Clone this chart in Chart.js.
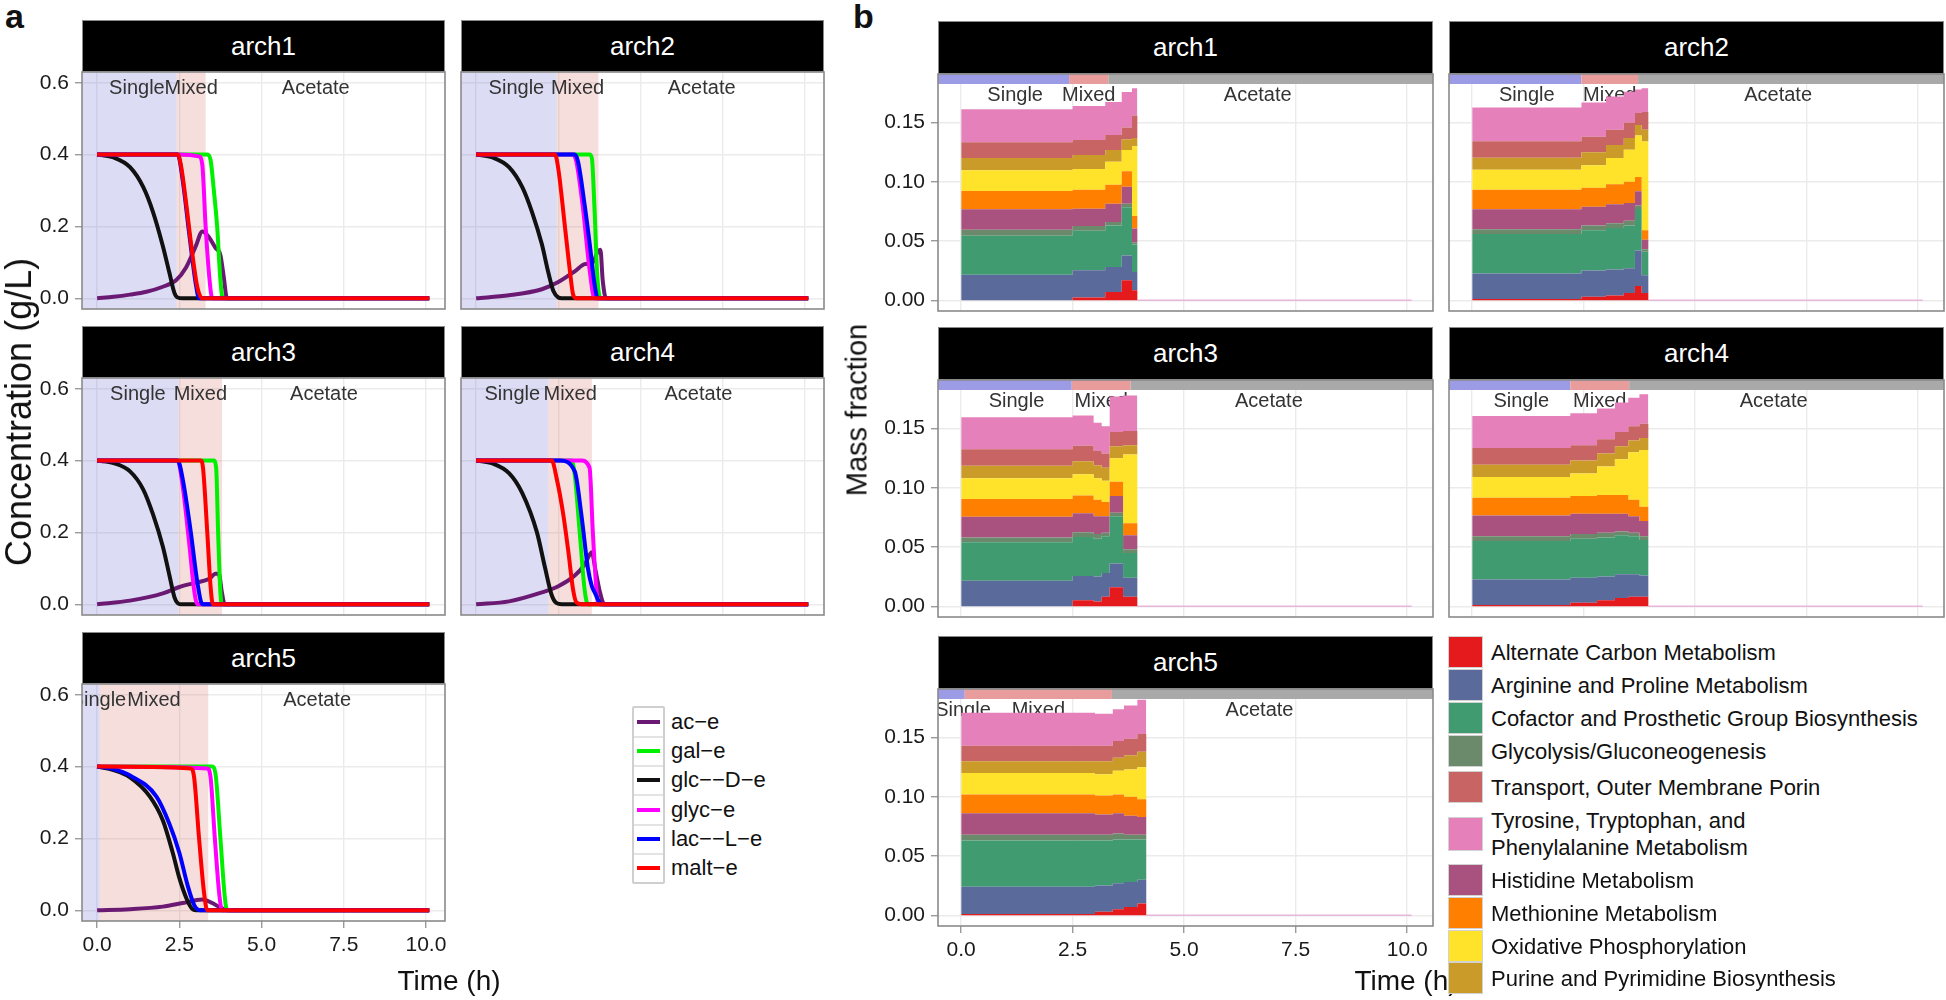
<!DOCTYPE html>
<html>
<head>
<meta charset="utf-8">
<title>Substrate uptake phases and pathway mass fractions</title>
<script src="https://cdn.jsdelivr.net/npm/chart.js@4.4.1/dist/chart.umd.min.js"></script>
<style>
  body { margin: 0; width: 1946px; height: 1000px; position: relative; overflow: hidden; background: #fff;
         font-family: "Liberation Sans", Arial, Helvetica, sans-serif; color: #111; }
  canvas { position: absolute; }
  .strip { position: absolute; box-sizing: border-box; background: #000; border: 1.5px solid #8a8a8a; color: #fff;
           font-size: 26px; display: flex; align-items: center; justify-content: center; }
  .txt { position: absolute; white-space: nowrap; }
  .box { position: absolute; box-sizing: border-box; }
</style>
</head>
<body>
<script>
const FONT = '"Liberation Sans", Arial, Helvetica, sans-serif';

// facets and growth phases (h)
const archNames = ['arch1', 'arch2', 'arch3', 'arch4', 'arch5'];
const phaseNames = ['Single', 'Mixed', 'Acetate'];
const phaseStart = 0;
const singleEnd = [2.42, 2.45, 2.48, 2.2, 0.08];
const mixedEnd = [3.3, 3.72, 3.8, 3.52, 3.38];
const acetateEnd = 10;

const timeTicks = [0, 2.5, 5, 7.5, 10];
const concTicks = [0, 0.2, 0.4, 0.6];
const fracTicks = [0, 0.05, 0.1, 0.15];

// ---- panel a: substrate concentrations [time, g/L] ----
const species = ['ac\u2212e', 'gal\u2212e', 'glc\u2212\u2212D\u2212e', 'glyc\u2212e', 'lac\u2212\u2212L\u2212e', 'malt\u2212e'];
const speciesColors = ['#6b1a74', '#00f000', '#111111', '#ff00ff', '#0000ff', '#ff0000'];

const a1_ac   = [[0,0],[0.5,0.004],[1,0.01],[1.5,0.018],[2,0.032],[2.4,0.05],[2.7,0.085],[3.0,0.145],[3.2,0.186],[3.4,0.17],[3.6,0.14],[3.75,0.12],[3.85,0.06],[3.95,0],[10.1,0]];
const a1_gal  = [[0,0.4],[3.35,0.4],[3.45,0.385],[3.55,0.3],[3.65,0.2],[3.75,0.05],[3.82,0],[10.1,0]];
const a1_glc  = [[0,0.4],[0.5,0.392],[1.0,0.365],[1.4,0.31],[1.7,0.24],[2.0,0.145],[2.2,0.07],[2.35,0.015],[2.45,0.002],[2.6,0],[10.1,0]];
const a1_glyc = [[0,0.4],[2.5,0.4],[3.1,0.395],[3.2,0.37],[3.3,0.2],[3.42,0.05],[3.5,0],[10.1,0]];
const a1_lac  = [[0,0.4],[2.45,0.4],[2.6,0.33],[2.8,0.18],[3.0,0.04],[3.1,0],[10.1,0]];
const a1_malt = [[0,0.4],[2.45,0.4],[2.55,0.37],[2.7,0.27],[2.9,0.12],[3.05,0.03],[3.2,0],[10.1,0]];

const a2_ac   = [[0,0],[1,0.008],[2,0.025],[2.5,0.045],[3.0,0.075],[3.3,0.095],[3.55,0.1],[3.7,0.13],[3.78,0.135],[3.85,0.05],[3.95,0],[10.1,0]];
const a2_gal  = [[0,0.4],[3.45,0.4],[3.52,0.39],[3.6,0.25],[3.68,0.07],[3.78,0],[10.1,0]];
const a2_glc  = [[0,0.4],[0.5,0.392],[1.0,0.365],[1.4,0.31],[1.7,0.24],[2.0,0.15],[2.2,0.07],[2.35,0.02],[2.5,0.002],[2.6,0],[10.1,0]];
const a2_glyc = [[0,0.4],[2.95,0.4],[3.05,0.38],[3.25,0.25],[3.45,0.08],[3.6,0],[10.1,0]];
const a2_lac  = [[0,0.4],[3.0,0.4],[3.1,0.38],[3.3,0.26],[3.47,0.14],[3.6,0.04],[3.7,0],[10.1,0]];
const a2_malt = [[0,0.4],[2.4,0.4],[2.5,0.36],[2.7,0.2],[2.86,0.07],[2.95,0.01],[3.05,0],[10.1,0]];

const a3_ac   = [[0,0],[1,0.01],[2,0.03],[2.5,0.048],[3.0,0.06],[3.4,0.07],[3.6,0.085],[3.7,0.085],[3.8,0.03],[3.88,0],[10.1,0]];
const a3_gal  = [[0,0.4],[3.55,0.4],[3.62,0.38],[3.68,0.2],[3.75,0.03],[3.8,0],[10.1,0]];
const a3_glc  = [[0,0.4],[0.5,0.393],[1.0,0.37],[1.4,0.32],[1.7,0.25],[2.0,0.16],[2.2,0.08],[2.35,0.02],[2.45,0.003],[2.55,0],[10.1,0]];
const a3_glyc = [[0,0.4],[2.45,0.4],[2.6,0.33],[2.8,0.17],[2.95,0.04],[3.05,0],[10.1,0]];
const a3_lac  = [[0,0.4],[2.45,0.4],[2.6,0.35],[2.85,0.2],[3.05,0.06],[3.2,0],[10.1,0]];
const a3_malt = [[0,0.4],[3.15,0.4],[3.22,0.38],[3.35,0.2],[3.45,0.05],[3.52,0],[10.1,0]];

const a4_ac   = [[0,0],[1,0.008],[2,0.033],[2.5,0.05],[3.0,0.08],[3.3,0.11],[3.52,0.145],[3.62,0.1],[3.75,0.04],[3.9,0],[10.1,0]];
const a4_gal  = [[0,0.4],[2.9,0.4],[3.0,0.36],[3.15,0.2],[3.3,0.04],[3.4,0],[10.1,0]];
const a4_glc  = [[0,0.4],[0.5,0.392],[1.0,0.365],[1.4,0.31],[1.85,0.2],[2.1,0.1],[2.3,0.025],[2.45,0.003],[2.6,0],[10.1,0]];
const a4_glyc = [[0,0.4],[3.2,0.4],[3.45,0.38],[3.55,0.2],[3.65,0.05],[3.72,0],[10.1,0]];
const a4_lac  = [[0,0.4],[2.55,0.4],[3.0,0.37],[3.2,0.25],[3.4,0.1],[3.52,0.05],[3.62,0.03],[3.72,0.01],[3.8,0],[10.1,0]];
const a4_malt = [[0,0.4],[2.3,0.4],[2.45,0.35],[2.65,0.25],[2.8,0.15],[2.95,0.04],[3.05,0.005],[3.2,0],[10.1,0]];

const a5_ac   = [[0,0],[1,0.003],[2,0.01],[2.6,0.02],[3.2,0.03],[3.5,0.02],[3.8,0.005],[4.0,0],[10.1,0]];
const a5_gal  = [[0,0.4],[3.5,0.4],[3.6,0.38],[3.75,0.2],[3.88,0.04],[3.95,0],[10.1,0]];
const a5_glc  = [[0,0.4],[0.5,0.39],[1.0,0.37],[1.6,0.317],[2.0,0.25],[2.3,0.16],[2.5,0.09],[2.73,0.03],[2.9,0.003],[3.0,0],[10.1,0]];
const a5_glyc = [[0,0.4],[3.35,0.395],[3.45,0.37],[3.58,0.2],[3.72,0.04],[3.8,0],[10.1,0]];
const a5_lac  = [[0,0.4],[0.5,0.393],[1.0,0.375],[1.8,0.317],[2.2,0.24],[2.5,0.16],[2.75,0.07],[2.95,0.015],[3.13,0],[10.1,0]];
const a5_malt = [[0,0.4],[2.85,0.395],[2.95,0.37],[3.1,0.2],[3.25,0.05],[3.35,0],[10.1,0]];

const concByArch = [
  [a1_ac, a1_gal, a1_glc, a1_glyc, a1_lac, a1_malt],
  [a2_ac, a2_gal, a2_glc, a2_glyc, a2_lac, a2_malt],
  [a3_ac, a3_gal, a3_glc, a3_glyc, a3_lac, a3_malt],
  [a4_ac, a4_gal, a4_glc, a4_glyc, a4_lac, a4_malt],
  [a5_ac, a5_gal, a5_glc, a5_glyc, a5_lac, a5_malt]
];

// ---- panel b: mass fraction per pathway (stack order, bottom -> top) ----
const pathways = ['Alternate Carbon Metabolism', 'Arginine and Proline Metabolism', 'Cofactor and Prosthetic Group Biosynthesis',
  'Glycolysis/Gluconeogenesis', 'Histidine Metabolism', 'Methionine Metabolism', 'Oxidative Phosphorylation',
  'Purine and Pyrimidine Biosynthesis', 'Transport, Outer Membrane Porin', 'Tyrosine, Tryptophan, and Phenylalanine Metabolism'];
const pathwayColors = ['#e41a1c', '#596a9b', '#419b70', '#6b8a6c', '#a9527f', '#ff7f00', '#ffe32a', '#cb9b2a', '#c86463', '#e580bb'];
const legendOrder = [0, 1, 2, 3, 8, 9, 4, 5, 6, 7];

const b1_t = [0, 2.5, 3.23, 3.6, 3.83, 3.95, 10.1];
const b1_vals = [
  [0, 0.0022, 0.007, 0.0168, 0.0084, 0, 0],
  [0.0215, 0.023, 0.021, 0.021, 0.0154, 0, 0],
  [0.033, 0.0335, 0.035, 0.0406, 0.0232, 0, 0],
  [0.005, 0.004, 0.003, 0.003, 0.002, 0, 0],
  [0.0173, 0.0145, 0.0155, 0.0145, 0.0115, 0, 0],
  [0.0154, 0.016, 0.016, 0.013, 0.0107, 0, 0],
  [0.0175, 0.0175, 0.0195, 0.018, 0.0588, 0, 0],
  [0.0103, 0.012, 0.0098, 0.009, 0.007, 0, 0],
  [0.0133, 0.0126, 0.0126, 0.010, 0.019, 0, 0],
  [0.028, 0.0287, 0.028, 0.030, 0.023, 0, 0]
];
const b2_t = [0, 2.45, 3.0, 3.4, 3.65, 3.8, 3.95, 10.1];
const b2_vals = [
  [0.001, 0.003, 0.004, 0.006, 0.012, 0.006, 0, 0],
  [0.0215, 0.022, 0.022, 0.021, 0.03, 0.015, 0, 0],
  [0.0335, 0.034, 0.035, 0.036, 0.035, 0.02, 0, 0],
  [0.004, 0.004, 0.004, 0.004, 0.003, 0.002, 0, 0],
  [0.0168, 0.016, 0.016, 0.015, 0.012, 0.008, 0, 0],
  [0.0164, 0.016, 0.017, 0.018, 0.012, 0.008, 0, 0],
  [0.017, 0.019, 0.022, 0.027, 0.035, 0.075, 0, 0],
  [0.01, 0.011, 0.011, 0.010, 0.009, 0.01, 0, 0],
  [0.014, 0.013, 0.013, 0.013, 0.01, 0.015, 0, 0],
  [0.0285, 0.029, 0.028, 0.026, 0.02, 0.02, 0, 0]
];
const b3_t = [0, 2.5, 2.97, 3.15, 3.33, 3.63, 3.95, 10.1];
const b3_vals = [
  [0, 0.005, 0.004, 0.008, 0.016, 0.008, 0, 0],
  [0.0215, 0.0205, 0.021, 0.02, 0.02, 0.016, 0, 0],
  [0.0325, 0.033, 0.032, 0.031, 0.04, 0.021, 0, 0],
  [0.004, 0.004, 0.004, 0.003, 0.003, 0.003, 0, 0],
  [0.0175, 0.016, 0.015, 0.014, 0.014, 0.012, 0, 0],
  [0.015, 0.015, 0.014, 0.012, 0.012, 0.01, 0, 0],
  [0.0175, 0.018, 0.018, 0.018, 0.02, 0.058, 0, 0],
  [0.0105, 0.011, 0.011, 0.011, 0.01, 0.008, 0, 0],
  [0.014, 0.013, 0.012, 0.012, 0.012, 0.012, 0, 0],
  [0.027, 0.0255, 0.024, 0.023, 0.03, 0.03, 0, 0]
];
const b4_t = [0, 2.2, 2.8, 3.2, 3.5, 3.75, 3.95, 10.1];
const b4_vals = [
  [0.001, 0.003, 0.005, 0.007, 0.008, 0.008, 0, 0],
  [0.0215, 0.021, 0.02, 0.02, 0.019, 0.018, 0, 0],
  [0.0325, 0.033, 0.033, 0.033, 0.032, 0.03, 0, 0],
  [0.004, 0.004, 0.004, 0.003, 0.003, 0.003, 0, 0],
  [0.0175, 0.017, 0.016, 0.015, 0.014, 0.013, 0, 0],
  [0.015, 0.015, 0.016, 0.016, 0.014, 0.012, 0, 0],
  [0.0175, 0.019, 0.024, 0.03, 0.04, 0.048, 0, 0],
  [0.0105, 0.011, 0.011, 0.011, 0.01, 0.01, 0, 0],
  [0.014, 0.013, 0.012, 0.012, 0.012, 0.012, 0, 0],
  [0.027, 0.027, 0.026, 0.025, 0.024, 0.025, 0, 0]
];
const b5_t = [0, 3.0, 3.4, 3.65, 3.95, 4.15, 10.1];
const b5_vals = [
  [0.001, 0.003, 0.005, 0.007, 0.01, 0, 0],
  [0.023, 0.022, 0.022, 0.021, 0.02, 0, 0],
  [0.039, 0.038, 0.037, 0.036, 0.034, 0, 0],
  [0.005, 0.005, 0.005, 0.004, 0.004, 0, 0],
  [0.018, 0.017, 0.017, 0.016, 0.015, 0, 0],
  [0.016, 0.016, 0.016, 0.016, 0.015, 0, 0],
  [0.018, 0.018, 0.02, 0.023, 0.027, 0, 0],
  [0.01, 0.011, 0.011, 0.012, 0.013, 0, 0],
  [0.013, 0.013, 0.014, 0.014, 0.015, 0, 0],
  [0.028, 0.027, 0.027, 0.028, 0.029, 0, 0]
];
const fracTimes = [b1_t, b2_t, b3_t, b4_t, b5_t];
const fracByArch = [b1_vals, b2_vals, b3_vals, b4_vals, b5_vals];

// ---- layout (page pixels) ----
const PA = { cols: [82, 461], w: 363, rows: [72, 378, 684], h: 237, stripH: 52, xMin: -0.46, xMax: 10.58, yMin: -0.03, yMax: 0.63 };
const PB = { cols: [938, 1449], w: 495, rows: [74, 380, 689], h: 237, stripH: 53, xMin: -0.52, xMax: 10.58, yMin: -0.0091, yMax: 0.191 };

function addEl(cls, css, html) {
  const d = document.createElement('div');
  d.className = cls;
  Object.assign(d.style, css);
  if (html !== undefined) d.innerHTML = html;
  document.body.appendChild(d);
  return d;
}

function addCanvas(left, top, w, h) {
  const c = document.createElement('canvas');
  c.width = w; c.height = h;
  Object.assign(c.style, { left: left + 'px', top: top + 'px', width: w + 'px', height: h + 'px' });
  document.body.appendChild(c);
  return c;
}

function phasePlugin(idx, kind) {
  const ends = [singleEnd[idx], mixedEnd[idx]];
  return {
    id: 'phases',
    beforeDatasetsDraw(chart) {
      const { ctx, chartArea: a, scales: { x } } = chart;
      const xs = x.getPixelForValue(ends[0]), xm = x.getPixelForValue(ends[1]);
      ctx.save();
      ctx.beginPath(); ctx.rect(a.left, a.top, a.width, a.height); ctx.clip();
      if (kind === 'a') {
        ctx.fillStyle = 'rgba(80,80,200,0.2)';
        ctx.fillRect(a.left, a.top, xs - a.left, a.height);
        ctx.fillStyle = 'rgba(205,90,80,0.2)';
        ctx.fillRect(xs, a.top, xm - xs, a.height);
      } else {
        const bh = 10;
        ctx.fillStyle = '#9c9ce6'; ctx.fillRect(a.left, a.top, xs - a.left, bh);
        ctx.fillStyle = '#e99c9c'; ctx.fillRect(xs, a.top, xm - xs, bh);
        ctx.fillStyle = '#a9a9a9'; ctx.fillRect(xm, a.top, a.right - xm, bh);
      }
      const mids = [(phaseStart + ends[0]) / 2, (ends[0] + ends[1]) / 2, (ends[1] + acetateEnd) / 2];
      ctx.font = '20px ' + FONT;
      ctx.fillStyle = '#333';
      ctx.textAlign = 'center';
      ctx.textBaseline = 'middle';
      phaseNames.forEach((n, k) => ctx.fillText(n, x.getPixelForValue(mids[k]), a.top + (kind === 'a' ? 16 : 21)));
      ctx.restore();
    },
    afterDraw(chart) {
      const { ctx, chartArea: a } = chart;
      ctx.save();
      ctx.strokeStyle = '#8a8a8a';
      ctx.lineWidth = 1.6;
      ctx.strokeRect(a.left, a.top, a.width, a.height);
      ctx.restore();
    }
  };
}

function noPad(s) {
  s.paddingTop = 0; s.paddingBottom = 0; s.paddingLeft = 0; s.paddingRight = 0;
}

function facet(P, idx, datasets, plugin, yTicks, yDigits, stacked) {
  const row = Math.floor(idx / 2), col = idx % 2;
  const plotLeft = P.cols[col], plotTop = P.rows[row];
  const showY = col === 0, showX = idx === 4;
  const yW = showY ? 66 : 0, xH = showX ? 46 : 0;
  const padL = showY ? 0 : 2, padB = showX ? 0 : 2;
  const w = padL + yW + P.w + 2, h = 2 + P.h + xH + padB;
  const canvas = addCanvas(plotLeft - yW - padL, plotTop - 2, w, h);
  addEl('strip', { left: plotLeft + 'px', top: (plotTop - P.stripH) + 'px', width: P.w + 'px', height: P.stripH + 'px' }, archNames[idx]);

  const tickFont = { family: FONT, size: 21 };
  const grid = (show) => ({ color: '#ebebeb', lineWidth: 1.4, drawTicks: show, tickLength: 7, tickColor: '#9a9a9a', tickWidth: 1.4 });
  return new Chart(canvas, {
    type: 'line',
    data: { datasets },
    options: {
      responsive: false, animation: false, devicePixelRatio: 1, events: [],
      layout: { autoPadding: false, padding: { left: padL, right: 2, top: 2, bottom: padB } },
      elements: { point: { radius: 0 } },
      plugins: { legend: { display: false }, tooltip: { enabled: false }, filler: { drawTime: 'beforeDatasetDraw' } },
      scales: {
        x: {
          type: 'linear', min: P.xMin, max: P.xMax,
          afterBuildTicks: s => { s.ticks = timeTicks.map(v => ({ value: v })); },
          afterFit: s => { s.height = xH; noPad(s); },
          ticks: { display: showX, padding: 5, color: '#1a1a1a', font: tickFont, maxRotation: 0, autoSkip: false,
                   callback: v => Number(v).toFixed(1) },
          grid: grid(showX),
          border: { display: false }
        },
        y: {
          type: 'linear', min: P.yMin, max: P.yMax, stacked: stacked,
          afterBuildTicks: s => { s.ticks = yTicks.map(v => ({ value: v })); },
          afterFit: s => { s.width = yW; noPad(s); },
          ticks: { display: showY, padding: 6, color: '#1a1a1a', font: tickFont, autoSkip: false,
                   callback: v => Number(v).toFixed(yDigits) },
          grid: grid(showY),
          border: { display: false }
        }
      }
    },
    plugins: [plugin]
  });
}

// panel a charts
archNames.forEach((name, i) => {
  const ds = concByArch[i].map((pts, s) => ({
    label: species[s],
    data: pts.map(p => ({ x: p[0], y: p[1] })),
    borderColor: speciesColors[s],
    borderWidth: 4,
    borderJoinStyle: 'round',
    cubicInterpolationMode: 'monotone',
    fill: false,
    order: species.length - s
  }));
  facet(PA, i, ds, phasePlugin(i, 'a'), concTicks, 1, false);
});

// panel b charts
const lastLayer = pathways.length - 1;
archNames.forEach((name, i) => {
  const ds = pathways.map((p, k) => {
    const d = {
      label: p,
      data: fracTimes[i].map((t, j) => ({ x: t, y: fracByArch[i][k][j] })),
      stepped: true,
      fill: k === 0 ? 'origin' : '-1',
      backgroundColor: pathwayColors[k],
      borderColor: 'rgba(0,0,0,0)',
      borderWidth: k === lastLayer ? 1.5 : 0
    };
    if (k === lastLayer) {
      d.segment = { borderColor: c => (c.p0.parsed.y === 0 && c.p1.parsed.y === 0) ? '#e7b5da' : 'rgba(0,0,0,0)' };
    }
    return d;
  });
  facet(PB, i, ds, phasePlugin(i, 'b'), fracTicks, 2, true);
});

// panel letters and axis titles
addEl('txt', { left: '5px', top: '-3px', fontSize: '34px', fontWeight: 'bold' }, 'a');
addEl('txt', { left: '853px', top: '-3px', fontSize: '34px', fontWeight: 'bold' }, 'b');
addEl('txt', { left: '449px', top: '981px', fontSize: '28px', transform: 'translate(-50%,-50%)' }, 'Time (h)');
addEl('txt', { left: '1406px', top: '981px', fontSize: '28px', transform: 'translate(-50%,-50%)' }, 'Time (h)');
addEl('txt', { left: '19px', top: '412px', fontSize: '36px', transform: 'translate(-50%,-50%) rotate(-90deg)' }, 'Concentration (g/L)');
addEl('txt', { left: '857px', top: '410px', fontSize: '29px', transform: 'translate(-50%,-50%) rotate(-90deg)' }, 'Mass fraction');

// legend a (line keys)
const legARows = [722, 751, 780, 810, 839, 868];
addEl('box', { left: '632px', top: '706px', width: '33px', height: '178px', border: '2px solid #cfcfcf', borderRadius: '2px' });
species.forEach((s, k) => {
  const c = legARows[k];
  if (k < species.length - 1) addEl('box', { left: '634px', top: (c + 14) + 'px', width: '29px', height: '1.5px', background: '#e3e3e3' });
  addEl('box', { left: '637px', top: (c - 2) + 'px', width: '23px', height: '4px', background: speciesColors[k] });
  addEl('txt', { left: '671px', top: (c - 14) + 'px', fontSize: '22px', lineHeight: '28px' }, s);
});

// legend b (fill keys)
const legBRows = [652, 685, 718, 751, 787, 834, 880, 913, 946, 978];
legendOrder.forEach((k, r) => {
  const c = legBRows[r];
  const two = k === lastLayer;
  const kh = two ? 34 : 32;
  addEl('box', { left: '1448px', top: (c - kh / 2) + 'px', width: '35px', height: kh + 'px', background: pathwayColors[k], border: '1.5px solid #d2d2d2' });
  const label = two ? 'Tyrosine, Tryptophan, and<br>Phenylalanine Metabolism' : pathways[k];
  addEl('txt', { left: '1491px', top: (c - (two ? 27 : 13.5)) + 'px', fontSize: '22px', lineHeight: '27px' }, label);
});
</script>
</body>
</html>
